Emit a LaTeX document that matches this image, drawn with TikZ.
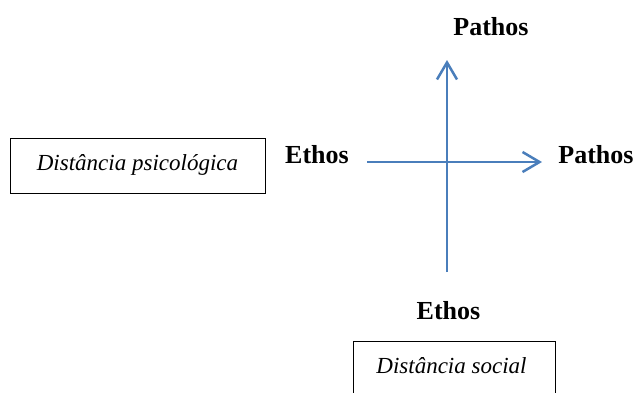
\documentclass[tikz,border=0pt]{standalone}
\usepackage{fontspec}
\setmainfont{Liberation Serif}
\usetikzlibrary{arrows.meta}
\definecolor{axisblue}{HTML}{4A7EBB}
\begin{document}
\begin{tikzpicture}[x=1pt,y=-1pt,
  lbl/.style={font=\fontsize{26}{30}\selectfont\bfseries, inner sep=0pt, anchor=base},
  boxtext/.style={font=\fontsize{23}{27}\selectfont\itshape, inner sep=0pt, anchor=base},
  framebox/.style={draw=black, line width=1pt, inner sep=0pt, anchor=north west},
  axis/.style={draw=axisblue, line width=2.5pt, -{Straight Barb[length=17pt,width=20pt]}}]
\useasboundingbox (0,0) rectangle (634,392);
\clip (0,0) rectangle (634,392);
% boxes
\node[framebox, minimum width=255pt, minimum height=55pt] (psybox) at (10,138) {};
\node[boxtext] (psytext) at (137.5,170.5) {Distância psicológica};
\node[framebox, minimum width=202pt, minimum height=70pt] (socbox) at (353,341) {};
\node[boxtext] (soctext) at (451.5,373) {Distância social};
% labels
\node[lbl] (ethosL) at (317,163) {Ethos};
\node[lbl] (pathosT) at (491,35) {Pathos};
\node[lbl] (pathosR) at (596,163) {Pathos};
\node[lbl] (ethosB) at (448.5,319) {Ethos};
% axes
\coordinate (hstart) at (367,162);
\coordinate (hend) at (542,162);
\coordinate (vstart) at (447,272);
\coordinate (vend) at (447,60);
\draw[axis] (hstart) -- (hend);
\draw[axis] (vstart) -- (vend);
\end{tikzpicture}
\end{document}
